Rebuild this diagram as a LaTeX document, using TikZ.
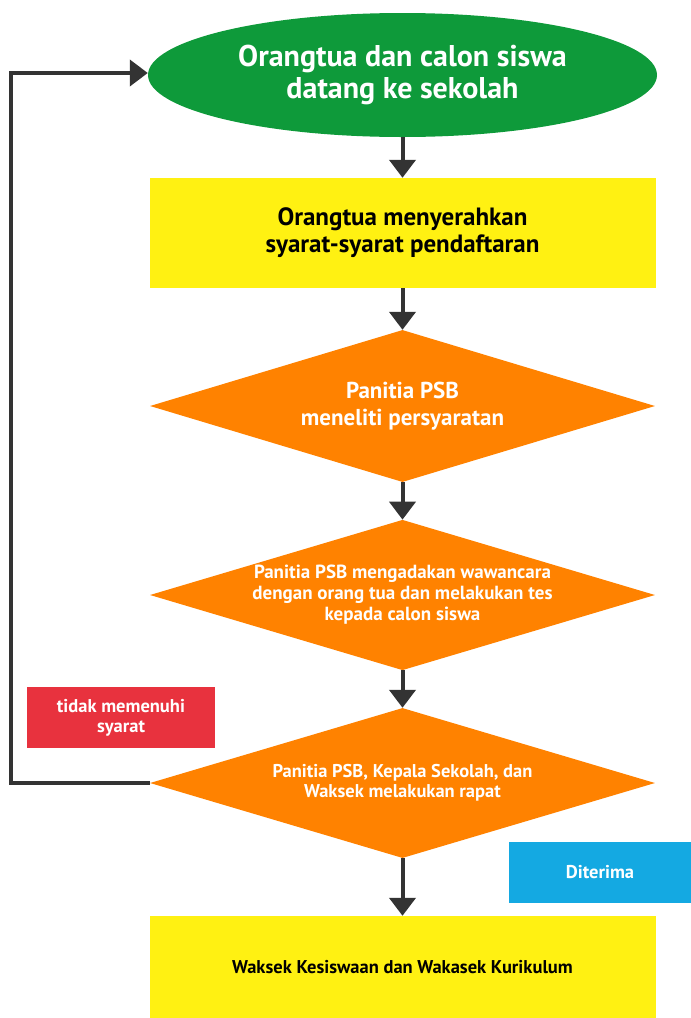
\documentclass[tikz,border=0pt]{standalone}
\usepackage{fontspec}
\setmainfont{PT Sans}
\usetikzlibrary{shapes.geometric,arrows.meta}
\definecolor{hijau}{HTML}{0E9A3A}
\definecolor{kuning}{HTML}{FFF112}
\definecolor{oranye}{HTML}{FF8200}
\definecolor{merah}{HTML}{E8323E}
\definecolor{biru}{HTML}{14A9E2}
\definecolor{panah}{HTML}{333333}
\tikzset{
    alur/.style={line width=4pt, draw=panah,
        -{Triangle[width=26pt,length=18pt]}},
    kotak/.style={rectangle, fill=kuning, minimum width=506pt,
        align=center, font=\bfseries\fontsize{25}{27}\selectfont},
    putusan/.style={diamond, fill=oranye, aspect=3.3, inner sep=0pt,
        minimum width=505pt, minimum height=150pt, align=center,
        text=white, font=\bfseries\fontsize{19}{21}\selectfont},
    label/.style={rectangle, text=white, align=center,
        font=\bfseries\fontsize{18.5}{20}\selectfont}
}
\begin{document}
\begin{tikzpicture}[x=1pt,y=-1pt]
    \fill[white] (0,0) rectangle (691,1018);
    \useasboundingbox (0,0) rectangle (691,1018);

    \node[ellipse, fill=hijau, minimum width=509pt, minimum height=124pt,
        align=center, text=white,
        font=\bfseries\fontsize{30}{32}\selectfont]
        (datang) at (402.5, 75) {Orangtua dan calon siswa\\datang ke sekolah};
    \node[kotak, minimum height=110pt]
        (syarat) at (402.5, 233) {Orangtua menyerahkan\\syarat-syarat pendaftaran};
    \node[putusan, minimum height=152pt, font=\bfseries\fontsize{23}{27}\selectfont]
        (teliti) at (402.5, 406) {Panitia PSB\\meneliti persyaratan};
    \node[putusan]
        (wawancara) at (402.5, 595) {Panitia PSB mengadakan wawancara\\dengan orang tua dan melakukan tes\\kepada calon siswa};
    \node[putusan, font=\bfseries\fontsize{18.5}{20}\selectfont]
        (rapat) at (402.5, 783) {Panitia PSB, Kepala Sekolah, dan\\Waksek melakukan rapat};
    \node[kotak, minimum height=102pt, font=\bfseries\fontsize{18.5}{20}\selectfont]
        (waksek) at (402.5, 967) {Waksek Kesiswaan dan Wakasek Kurikulum};

    \node[label, fill=merah, minimum width=188pt, minimum height=61pt]
        (gagal) at (121, 717.5) {tidak memenuhi\\syarat};
    \node[label, fill=biru, minimum width=182pt, minimum height=61pt]
        (terima) at (600, 872.5) {Diterima};

    \coordinate (balik) at (11, 0);

    \draw[alur] (datang) -- (syarat);
    \draw[alur] (syarat) -- (teliti);
    \draw[alur] (teliti) -- (wawancara);
    \draw[alur] (wawancara) -- (rapat);
    \draw[alur] (rapat) -- (waksek);
    \draw[alur] (rapat.west) -- (rapat.west -| balik) |- ([yshift=2pt]datang.west);
\end{tikzpicture}
\end{document}
